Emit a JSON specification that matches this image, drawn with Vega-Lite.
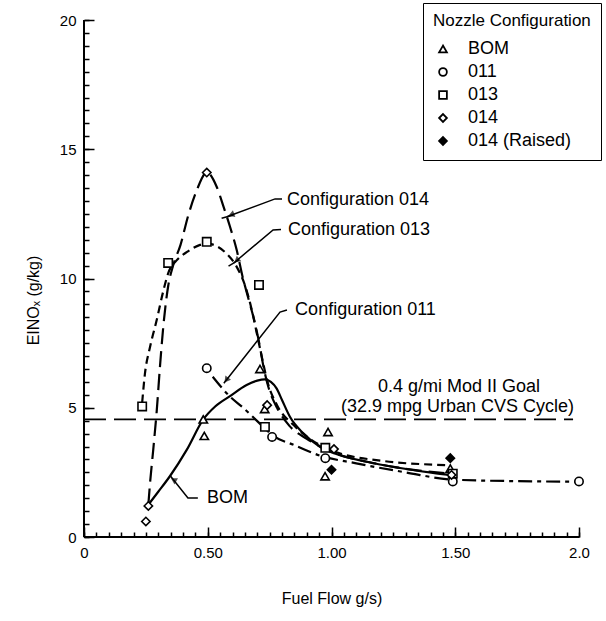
{
  "$schema": "https://vega.github.io/schema/vega-lite/v6.json",
  "width": 495,
  "height": 517,
  "autosize": "none",
  "padding": {"left": 84, "top": 20, "right": 27, "bottom": 84},
  "background": "white",
  "config": {
    "font": "Liberation Sans",
    "view": {"stroke": null},
    "axis": {"domain": false, "tickColor": "black", "tickWidth": 1.5, "labelColor": "black", "titleColor": "black", "grid": false}
  },
  "resolve": {"axis": {"x": "independent", "y": "independent"}},
  "datasets": {
    "points": [
      {"series": "BOM", "x": 0.482, "y": 4.55},
      {"series": "BOM", "x": 0.486, "y": 3.91},
      {"series": "BOM", "x": 0.711, "y": 6.5},
      {"series": "BOM", "x": 0.73, "y": 4.95},
      {"series": "BOM", "x": 0.986, "y": 4.06},
      {"series": "BOM", "x": 0.974, "y": 2.35},
      {"series": "BOM", "x": 1.48, "y": 2.65},
      {"series": "011", "x": 0.496, "y": 6.53},
      {"series": "011", "x": 0.76, "y": 3.87},
      {"series": "011", "x": 0.975, "y": 3.05},
      {"series": "011", "x": 1.49, "y": 2.15},
      {"series": "011", "x": 2.0, "y": 2.15},
      {"series": "013", "x": 0.235, "y": 5.05},
      {"series": "013", "x": 0.34, "y": 10.6},
      {"series": "013", "x": 0.496, "y": 11.42},
      {"series": "013", "x": 0.707, "y": 9.75},
      {"series": "013", "x": 0.731, "y": 4.26},
      {"series": "013", "x": 0.975, "y": 3.45},
      {"series": "013", "x": 1.49, "y": 2.45},
      {"series": "014", "x": 0.26, "y": 1.2},
      {"series": "014", "x": 0.25, "y": 0.6},
      {"series": "014", "x": 0.496, "y": 14.1},
      {"series": "014", "x": 0.74, "y": 5.1},
      {"series": "014", "x": 1.01, "y": 3.4},
      {"series": "014", "x": 1.485, "y": 2.4},
      {"series": "014 (Raised)", "x": 1.0, "y": 2.6},
      {"series": "014 (Raised)", "x": 1.48, "y": 3.05}
    ],
    "curves": [
      {"curve": "BOM", "x": 0.26, "y": 1.25}, {"curve": "BOM", "x": 0.30, "y": 1.75}, {"curve": "BOM", "x": 0.347, "y": 2.35}, {"curve": "BOM", "x": 0.415, "y": 3.37}, {"curve": "BOM", "x": 0.482, "y": 4.55}, {"curve": "BOM", "x": 0.53, "y": 5.05}, {"curve": "BOM", "x": 0.59, "y": 5.45}, {"curve": "BOM", "x": 0.657, "y": 5.88}, {"curve": "BOM", "x": 0.70, "y": 6.05}, {"curve": "BOM", "x": 0.731, "y": 6.1}, {"curve": "BOM", "x": 0.755, "y": 6.0}, {"curve": "BOM", "x": 0.778, "y": 5.75}, {"curve": "BOM", "x": 0.80, "y": 5.3}, {"curve": "BOM", "x": 0.832, "y": 4.65}, {"curve": "BOM", "x": 0.885, "y": 4.02}, {"curve": "BOM", "x": 0.953, "y": 3.49}, {"curve": "BOM", "x": 1.008, "y": 3.25}, {"curve": "BOM", "x": 1.142, "y": 2.91}, {"curve": "BOM", "x": 1.277, "y": 2.67}, {"curve": "BOM", "x": 1.41, "y": 2.48}, {"curve": "BOM", "x": 1.48, "y": 2.4},
      {"curve": "013", "x": 0.235, "y": 5.2}, {"curve": "013", "x": 0.246, "y": 6.3}, {"curve": "013", "x": 0.267, "y": 7.36}, {"curve": "013", "x": 0.294, "y": 8.4}, {"curve": "013", "x": 0.32, "y": 9.5}, {"curve": "013", "x": 0.34, "y": 10.2}, {"curve": "013", "x": 0.374, "y": 10.7}, {"curve": "013", "x": 0.42, "y": 11.05}, {"curve": "013", "x": 0.469, "y": 11.3}, {"curve": "013", "x": 0.5, "y": 11.35}, {"curve": "013", "x": 0.536, "y": 11.25}, {"curve": "013", "x": 0.577, "y": 10.95}, {"curve": "013", "x": 0.617, "y": 10.45}, {"curve": "013", "x": 0.65, "y": 9.75}, {"curve": "013", "x": 0.68, "y": 8.7}, {"curve": "013", "x": 0.70, "y": 7.8}, {"curve": "013", "x": 0.72, "y": 6.9}, {"curve": "013", "x": 0.74, "y": 6.05}, {"curve": "013", "x": 0.78, "y": 5.1}, {"curve": "013", "x": 0.85, "y": 4.3}, {"curve": "013", "x": 0.92, "y": 3.75}, {"curve": "013", "x": 1.0, "y": 3.35}, {"curve": "013", "x": 1.2, "y": 2.95}, {"curve": "013", "x": 1.47, "y": 2.78},
      {"curve": "014", "x": 0.26, "y": 1.25}, {"curve": "014", "x": 0.267, "y": 2.1}, {"curve": "014", "x": 0.28, "y": 3.4}, {"curve": "014", "x": 0.294, "y": 4.9}, {"curve": "014", "x": 0.307, "y": 6.6}, {"curve": "014", "x": 0.32, "y": 8.1}, {"curve": "014", "x": 0.34, "y": 9.7}, {"curve": "014", "x": 0.36, "y": 10.5}, {"curve": "014", "x": 0.39, "y": 11.3}, {"curve": "014", "x": 0.42, "y": 12.4}, {"curve": "014", "x": 0.455, "y": 13.4}, {"curve": "014", "x": 0.496, "y": 14.1}, {"curve": "014", "x": 0.536, "y": 13.55}, {"curve": "014", "x": 0.563, "y": 12.8}, {"curve": "014", "x": 0.59, "y": 12.0}, {"curve": "014", "x": 0.617, "y": 11.1}, {"curve": "014", "x": 0.64, "y": 10.1}, {"curve": "014", "x": 0.665, "y": 9.2}, {"curve": "014", "x": 0.69, "y": 8.3}, {"curve": "014", "x": 0.71, "y": 7.4}, {"curve": "014", "x": 0.725, "y": 6.6}, {"curve": "014", "x": 0.745, "y": 5.8}, {"curve": "014", "x": 0.78, "y": 5.0}, {"curve": "014", "x": 0.83, "y": 4.3}, {"curve": "014", "x": 0.9, "y": 3.8}, {"curve": "014", "x": 1.0, "y": 3.3}, {"curve": "014", "x": 1.2, "y": 2.8}, {"curve": "014", "x": 1.48, "y": 2.45},
      {"curve": "011", "x": 0.52, "y": 6.2}, {"curve": "011", "x": 0.59, "y": 5.43}, {"curve": "011", "x": 0.643, "y": 5.0}, {"curve": "011", "x": 0.683, "y": 4.64}, {"curve": "011", "x": 0.72, "y": 4.3}, {"curve": "011", "x": 0.76, "y": 3.95}, {"curve": "011", "x": 0.85, "y": 3.55}, {"curve": "011", "x": 0.953, "y": 3.15}, {"curve": "011", "x": 1.1, "y": 2.85}, {"curve": "011", "x": 1.3, "y": 2.5}, {"curve": "011", "x": 1.49, "y": 2.22}, {"curve": "011", "x": 1.75, "y": 2.16}, {"curve": "011", "x": 1.99, "y": 2.14},
      {"curve": "goal", "x": 0.0, "y": 4.55}, {"curve": "goal", "x": 1.976, "y": 4.55}
    ],
    "labels": [
      {"text": "Configuration 014", "x": 0.82, "y": 13.04, "align": "left"},
      {"text": "Configuration 013", "x": 0.824, "y": 11.88, "align": "left"},
      {"text": "Configuration 011", "x": 0.853, "y": 8.78, "align": "left"},
      {"text": "BOM", "x": 0.497, "y": 1.51, "align": "left"},
      {"text": "0.4 g/mi Mod II Goal", "x": 1.515, "y": 5.8, "align": "center"},
      {"text": "(32.9 mpg Urban CVS Cycle)", "x": 1.509, "y": 5.03, "align": "center"}
    ],
    "leaders": [
      {"id": "L014", "o": 1, "x": 0.80, "y": 13.08}, {"id": "L014", "o": 2, "x": 0.772, "y": 13.08}, {"id": "L014", "o": 3, "x": 0.58, "y": 12.4},
      {"id": "L013", "o": 1, "x": 0.796, "y": 11.9}, {"id": "L013", "o": 2, "x": 0.764, "y": 11.88}, {"id": "L013", "o": 3, "x": 0.605, "y": 10.6},
      {"id": "L011", "o": 1, "x": 0.82, "y": 8.78}, {"id": "L011", "o": 2, "x": 0.792, "y": 8.7}, {"id": "L011", "o": 3, "x": 0.565, "y": 5.95},
      {"id": "LBOM", "o": 1, "x": 0.46, "y": 1.51}, {"id": "LBOM", "o": 2, "x": 0.42, "y": 1.51}, {"id": "LBOM", "o": 3, "x": 0.35, "y": 2.35},
      {"id": "T014", "o": 1, "x": 0.556, "y": 12.33}, {"id": "T014", "o": 2, "x": 0.604, "y": 12.46},
      {"id": "T013", "o": 1, "x": 0.584, "y": 10.48}, {"id": "T013", "o": 2, "x": 0.626, "y": 10.72}
    ],
    "arrows": [
      {"id": "L014", "x": 0.595, "y": 12.47},
      {"id": "L013", "x": 0.617, "y": 10.7},
      {"id": "L011", "x": 0.575, "y": 6.07},
      {"id": "LBOM", "x": 0.362, "y": 2.21}
    ]
  },
  "layer": [
    {
      "data": {"name": "curves"},
      "transform": [{"filter": "datum.curve == 'goal'"}],
      "mark": {"type": "line", "color": "black", "strokeWidth": 1.6, "strokeDash": [22, 8], "clip": false},
      "encoding": {
        "x": {"field": "x", "type": "quantitative", "scale": {"domain": [0, 2], "nice": false},
          "axis": {"orient": "bottom", "offset": -10, "tickSize": 10, "title": "Fuel Flow g/s)", "titleFontSize": 16, "titleFontWeight": "normal", "titlePadding": 30,
            "values": [0, 0.5, 1, 1.5, 2],
            "labelExpr": "datum.value == 0 ? '0' : datum.value == 2 ? '2.0' : format(datum.value, '.2f')",
            "labelFontSize": 15, "labelPadding": 8, "labelFlush": false, "labelOverlap": false}},
        "y": {"field": "y", "type": "quantitative", "scale": {"domain": [0, 20], "nice": false},
          "axis": {"orient": "left", "offset": -10, "tickSize": 10, "title": "EINOₓ (g/kg)", "titleFontSize": 16, "titleFontWeight": "normal", "titlePadding": 18, "titleY": 280,
            "values": [0, 5, 10, 15, 20],
            "labelExpr": "format(datum.value, 'd')",
            "labelFontSize": 15, "labelPadding": 8, "labelOverlap": false}}
      }
    },
    {
      "data": {"name": "curves"},
      "transform": [{"filter": "datum.curve == 'BOM'"}],
      "mark": {"type": "line", "color": "black", "strokeWidth": 2.2, "interpolate": "monotone"},
      "encoding": {
        "x": {"field": "x", "type": "quantitative",
          "axis": {"orient": "bottom", "offset": -5, "tickSize": 5, "title": null, "labels": false,
            "values": [0,0.05,0.1,0.15,0.2,0.25,0.3,0.35,0.4,0.45,0.5,0.55,0.6,0.65,0.7,0.75,0.8,0.85,0.9,0.95,1,1.05,1.1,1.15,1.2,1.25,1.3,1.35,1.4,1.45,1.5,1.55,1.6,1.65,1.7,1.75,1.8,1.85,1.9,1.95,2]}},
        "y": {"field": "y", "type": "quantitative",
          "axis": {"orient": "left", "offset": -5, "tickSize": 5, "title": null, "labels": false,
            "values": [0,0.5,1,1.5,2,2.5,3,3.5,4,4.5,5,5.5,6,6.5,7,7.5,8,8.5,9,9.5,10,10.5,11,11.5,12,12.5,13,13.5,14,14.5,15,15.5,16,16.5,17,17.5,18,18.5,19,19.5,20]}}
      }
    },
    {
      "data": {"values": [{"x0": 0, "x1": 2, "y0": 0, "y1": 20}]},
      "mark": {"type": "rule", "color": "black", "strokeWidth": 2},
      "encoding": {
        "x": {"field": "x0", "type": "quantitative", "axis": null},
        "y": {"field": "y0", "type": "quantitative", "axis": null},
        "y2": {"field": "y1"}
      }
    },
    {
      "data": {"values": [{"x0": 0, "x1": 2, "y0": 0, "y1": 20}]},
      "mark": {"type": "rule", "color": "black", "strokeWidth": 2},
      "encoding": {
        "x": {"field": "x0", "type": "quantitative", "axis": null},
        "x2": {"field": "x1"},
        "y": {"field": "y0", "type": "quantitative", "axis": null}
      }
    },
    {
      "data": {"name": "curves"},
      "transform": [{"filter": "datum.curve == '013'"}],
      "mark": {"type": "line", "color": "black", "strokeWidth": 2.2, "strokeDash": [8, 5], "interpolate": "monotone"},
      "encoding": {"x": {"field": "x", "type": "quantitative", "axis": null}, "y": {"field": "y", "type": "quantitative", "axis": null}}
    },
    {
      "data": {"name": "curves"},
      "transform": [{"filter": "datum.curve == '014'"}],
      "mark": {"type": "line", "color": "black", "strokeWidth": 2.2, "strokeDash": [16, 7], "interpolate": "monotone"},
      "encoding": {"x": {"field": "x", "type": "quantitative", "axis": null}, "y": {"field": "y", "type": "quantitative", "axis": null}}
    },
    {
      "data": {"name": "curves"},
      "transform": [{"filter": "datum.curve == '011'"}],
      "mark": {"type": "line", "color": "black", "strokeWidth": 2.2, "strokeDash": [14, 5, 4, 5], "interpolate": "monotone"},
      "encoding": {"x": {"field": "x", "type": "quantitative", "axis": null}, "y": {"field": "y", "type": "quantitative", "axis": null}}
    },
    {
      "data": {"name": "leaders"},
      "mark": {"type": "line", "color": "black", "strokeWidth": 1.5},
      "encoding": {
        "x": {"field": "x", "type": "quantitative", "axis": null},
        "y": {"field": "y", "type": "quantitative", "axis": null},
        "detail": {"field": "id"},
        "order": {"field": "o"}
      }
    },
    {
      "data": {"name": "arrows"},
      "transform": [{"filter": "datum.id == 'L014'"}],
      "mark": {"type": "point", "shape": "triangle-up", "filled": true, "color": "black", "size": 50, "angle": 250},
      "encoding": {"x": {"field": "x", "type": "quantitative", "axis": null}, "y": {"field": "y", "type": "quantitative", "axis": null}}
    },
    {
      "data": {"name": "arrows"},
      "transform": [{"filter": "datum.id == 'L013'"}],
      "mark": {"type": "point", "shape": "triangle-up", "filled": true, "color": "black", "size": 50, "angle": 230},
      "encoding": {"x": {"field": "x", "type": "quantitative", "axis": null}, "y": {"field": "y", "type": "quantitative", "axis": null}}
    },
    {
      "data": {"name": "arrows"},
      "transform": [{"filter": "datum.id == 'L011'"}],
      "mark": {"type": "point", "shape": "triangle-up", "filled": true, "color": "black", "size": 50, "angle": 218},
      "encoding": {"x": {"field": "x", "type": "quantitative", "axis": null}, "y": {"field": "y", "type": "quantitative", "axis": null}}
    },
    {
      "data": {"name": "arrows"},
      "transform": [{"filter": "datum.id == 'LBOM'"}],
      "mark": {"type": "point", "shape": "triangle-up", "filled": true, "color": "black", "size": 50, "angle": 300},
      "encoding": {"x": {"field": "x", "type": "quantitative", "axis": null}, "y": {"field": "y", "type": "quantitative", "axis": null}}
    },
    {
      "data": {"name": "labels"},
      "transform": [{"filter": "datum.align == 'left'"}],
      "mark": {"type": "text", "fontSize": 18, "color": "black", "baseline": "middle", "align": "left", "clip": false},
      "encoding": {"x": {"field": "x", "type": "quantitative", "axis": null}, "y": {"field": "y", "type": "quantitative", "axis": null}, "text": {"field": "text"}}
    },
    {
      "data": {"name": "labels"},
      "transform": [{"filter": "datum.align == 'center'"}],
      "mark": {"type": "text", "fontSize": 18, "color": "black", "baseline": "middle", "align": "center", "clip": false},
      "encoding": {"x": {"field": "x", "type": "quantitative", "axis": null}, "y": {"field": "y", "type": "quantitative", "axis": null}, "text": {"field": "text"}}
    },
    {
      "data": {"name": "points"},
      "mark": {"type": "point", "size": 70, "strokeWidth": 1.6, "filled": true, "opacity": 1},
      "encoding": {
        "x": {"field": "x", "type": "quantitative", "axis": null},
        "y": {"field": "y", "type": "quantitative", "axis": null},
        "shape": {"field": "series", "type": "nominal",
          "scale": {"domain": ["BOM", "011", "013", "014", "014 (Raised)"], "range": ["triangle-up", "circle", "square", "diamond", "diamond"]},
          "legend": {"title": "Nozzle Configuration", "orient": "none", "legendX": 339, "legendY": -17,
            "strokeColor": "black", "fillColor": "white", "padding": 10, "titleFontSize": 17, "titleFontWeight": "normal",
            "labelFontSize": 18, "symbolSize": 60, "symbolStrokeWidth": 1.8, "rowPadding": 5, "titlePadding": 10, "labelOffset": 16, "symbolOffset": 1}},
        "fill": {"field": "series", "type": "nominal",
          "scale": {"domain": ["BOM", "011", "013", "014", "014 (Raised)"], "range": ["white", "white", "white", "white", "black"]},
          "legend": {"title": "Nozzle Configuration"}},
        "stroke": {"field": "series", "type": "nominal",
          "scale": {"domain": ["BOM", "011", "013", "014", "014 (Raised)"], "range": ["black", "black", "black", "black", "black"]},
          "legend": {"title": "Nozzle Configuration"}}
      }
    }
  ]
}
